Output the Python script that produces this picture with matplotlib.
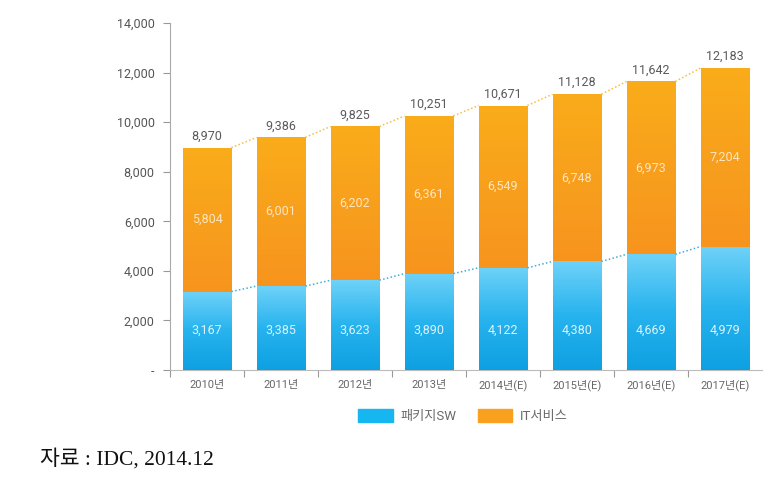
import matplotlib.pyplot as plt
import numpy as np
from matplotlib.colors import LinearSegmentedColormap
from matplotlib.patches import Patch

years = ["2010년", "2011년", "2012년", "2013년", "2014년(E)", "2015년(E)", "2016년(E)", "2017년(E)"]
package_sw = [3167, 3385, 3623, 3890, 4122, 4380, 4669, 4979]
it_service = [5804, 6001, 6202, 6361, 6549, 6748, 6973, 7204]
totals = [8970, 9386, 9825, 10251, 10671, 11128, 11642, 12183]

plt.rcParams['font.family'] = ['Roboto', 'Noto Sans CJK KR', 'DejaVu Sans']

fig = plt.figure(figsize=(7.83, 4.79), dpi=100)
ax = fig.add_axes([170 / 783, 1 - 370 / 479, 592 / 783, 347 / 479])

blue_cmap = LinearSegmentedColormap.from_list("b", ["#0EA0E2", "#27B3EE", "#6FD2F8"])
orange_cmap = LinearSegmentedColormap.from_list("o", ["#F7941E", "#F8A01D", "#FAAC1A"])
grad = np.linspace(0, 1, 256).reshape(-1, 1)

w = 0.66
x = np.arange(len(years))
blue_bars = ax.bar(x, package_sw, w, color="#1DB0EC", zorder=2)
orange_bars = ax.bar(x, it_service, w, bottom=package_sw, color="#F9A01E", zorder=2)

# gradient fill clipped to each bar
for bars, cmap in [(blue_bars, blue_cmap), (orange_bars, orange_cmap)]:
    for b in bars:
        x0, y0 = b.get_x(), b.get_y()
        im = ax.imshow(grad, cmap=cmap, aspect="auto", origin="lower",
                       extent=[x0, x0 + b.get_width(), y0, y0 + b.get_height()], zorder=3)
        im.set_clip_path(b)

# dotted connectors
for i in range(len(x) - 1):
    ax.plot([x[i] + w / 2, x[i + 1] - w / 2], [totals[i], totals[i + 1]],
            ls=(0, (1, 1.5)), color="#F6BE40", lw=1.1, zorder=4)
    ax.plot([x[i] + w / 2, x[i + 1] - w / 2], [package_sw[i], package_sw[i + 1]],
            ls=(0, (1, 1.5)), color="#3FAEDD", lw=1.1, zorder=4)

for i in range(len(x)):
    ax.text(x[i], totals[i] + 200, f"{totals[i]:,}", ha="center", va="bottom",
            fontsize=9, color="#5A5A5A", zorder=5)
    ax.text(x[i], package_sw[i] + it_service[i] / 2, f"{it_service[i]:,}", ha="center",
            va="center", fontsize=9, color="#FDE6BE", zorder=5)
    ax.text(x[i], 1600, f"{package_sw[i]:,}", ha="center", va="center",
            fontsize=9, color="#DDF3FC", zorder=5)

ax.set_xlim(-0.5, 7.5)
ax.set_ylim(0, 14000)
ax.set_yticks(range(0, 14001, 2000))
ax.set_yticklabels(["-"] + [f"{v:,}" for v in range(2000, 14001, 2000)])
ax.tick_params(axis="y", length=5, width=0.8, color="#999999", labelcolor="#555555",
               labelsize=9, pad=6)

ax.set_xticks(x)
ax.set_xticklabels(years)
ax.set_xticks(np.arange(-0.5, 7, 1), minor=True)
ax.tick_params(axis="x", which="major", length=0, labelsize=8, labelcolor="#666666", pad=7)
ax.tick_params(axis="x", which="minor", length=5, width=0.8, color="#999999")

for s in ["top", "right"]:
    ax.spines[s].set_visible(False)
ax.spines["left"].set_color("#AAAAAA")
ax.spines["bottom"].set_color("#BBBBBB")

handles = [Patch(color="#16B6F0", label="패키지SW"), Patch(color="#F9A01E", label="IT서비스")]
fig.legend(handles=handles, loc="center", bbox_to_anchor=(463 / 783, 1 - 416 / 479),
           ncol=2, frameon=False, fontsize=9.5, handlelength=2.6, handleheight=1.1,
           handletextpad=0.6, columnspacing=1.6, labelcolor="#6A6A6A")

fig.text(40 / 783, 1 - 459 / 479, "자료 : IDC, 2014.12", fontsize=15.5, va="center",
         family=["Liberation Serif", "Noto Sans CJK KR"], color="#111111")

fig.savefig("out.png", dpi=100)
